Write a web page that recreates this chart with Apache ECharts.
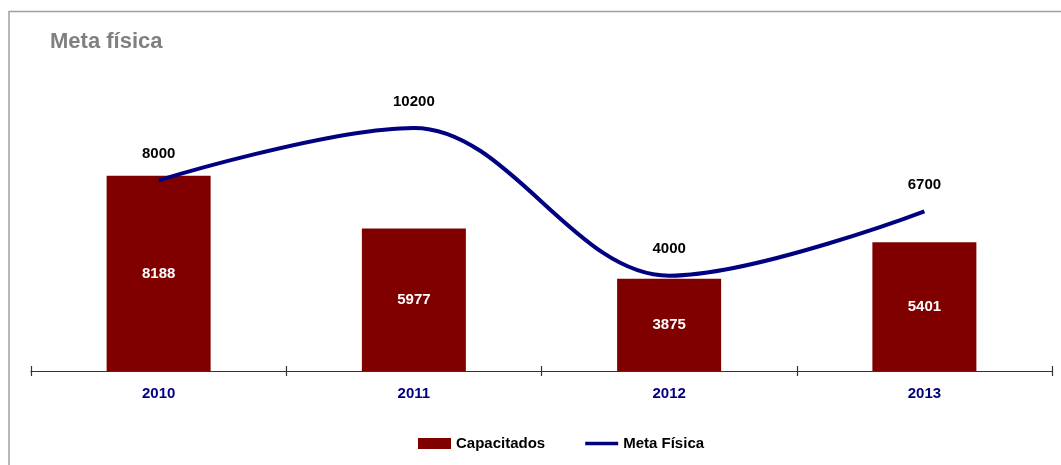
<!DOCTYPE html>
<html>
<head>
<meta charset="utf-8">
<script src="https://cdn.jsdelivr.net/npm/echarts@6/dist/echarts.min.js"></script>
<style>
  html, body { margin: 0; padding: 0; background: #fff; }
  #chart { width: 1061px; height: 465px; }
</style>
</head>
<body>
<div id="chart"></div>
<script>
// Years shown along the category axis
const years = ['2010', '2011', '2012', '2013'];
// People trained per year (bars)
const capacitados = [8188, 5977, 3875, 5401];
// Physical target per year (smoothed line)
const metaFisica = [8000, 10200, 4000, 6700];

const FONT = 'Liberation Sans, Arial, sans-serif';

const chart = echarts.init(document.getElementById('chart'), null, { renderer: 'canvas' });

chart.setOption({
  animation: false,
  backgroundColor: '#ffffff',
  textStyle: { fontFamily: FONT },
  graphic: [
    {
      type: 'rect',
      shape: { x: 9, y: 11.5, width: 1100, height: 500 },
      style: { fill: 'none', stroke: '#a0a0a0', lineWidth: 1.5 },
      silent: true
    }
  ],
  title: {
    text: 'Meta física',
    left: 50,
    top: 31,
    padding: 0,
    textStyle: { fontFamily: FONT, fontSize: 22, fontWeight: 'bold', color: '#808080' }
  },
  legend: {
    left: 418,
    top: 436,
    padding: 0,
    itemGap: 40,
    itemWidth: 33,
    itemHeight: 11,
    textStyle: { fontFamily: FONT, fontSize: 15, fontWeight: 'bold', color: '#000' },
    data: [
      { name: 'Capacitados', icon: 'rect' },
      { name: 'Meta Física', icon: 'path://M0,0H36V4H0Z' }
    ]
  },
  grid: { left: 31, right: 9, top: 85, bottom: 94, containLabel: false },
  xAxis: [
    {
      type: 'category',
      data: years,
      boundaryGap: true,
      axisLine: { show: true, lineStyle: { color: '#333', width: 1.2 } },
      axisTick: { show: true, inside: false, length: 5, lineStyle: { color: '#333', width: 1.2 } },
      axisLabel: {
        margin: 15,
        fontFamily: FONT,
        fontSize: 15,
        fontWeight: 'bold',
        color: '#000080'
      },
      splitLine: { show: false }
    },
    {
      // upper halves of the boundary ticks
      type: 'category',
      data: years,
      position: 'bottom',
      boundaryGap: true,
      axisLine: { show: false },
      axisTick: { show: true, inside: true, length: 5, lineStyle: { color: '#333', width: 1.2 } },
      axisLabel: { show: false },
      splitLine: { show: false }
    }
  ],
  yAxis: {
    type: 'value',
    min: 0,
    max: 12000,
    interval: 2000,
    show: false,
    splitLine: { show: false }
  },
  series: [
    {
      name: 'Capacitados',
      type: 'bar',
      xAxisIndex: 0,
      data: capacitados,
      barWidth: 104,
      itemStyle: { color: '#800000' },
      label: {
        show: true,
        position: 'inside',
        fontFamily: FONT,
        fontSize: 15,
        fontWeight: 'bold',
        color: '#ffffff'
      }
    },
    {
      name: 'Meta Física',
      type: 'line',
      xAxisIndex: 0,
      data: metaFisica,
      smooth: 0.35,
      symbol: 'circle',
      symbolSize: 0,
      showSymbol: true,
      lineStyle: { color: '#000080', width: 4 },
      itemStyle: { color: '#000080' },
      label: {
        show: true,
        position: 'top',
        distance: 19,
        fontFamily: FONT,
        fontSize: 15,
        fontWeight: 'bold',
        color: '#000'
      }
    }
  ]
});
</script>
</body>
</html>
